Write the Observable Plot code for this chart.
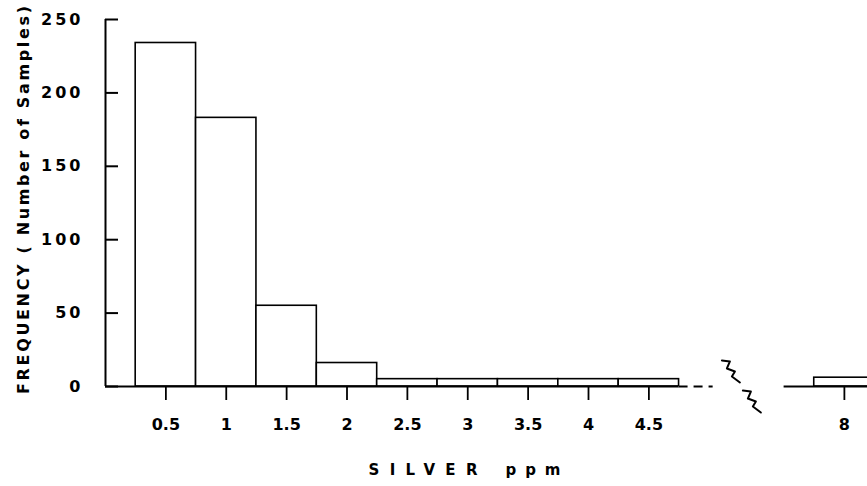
<!DOCTYPE html>
<html>
<head>
<meta charset="utf-8">
<script src="https://cdn.jsdelivr.net/npm/d3@7"></script>
<script src="https://cdn.jsdelivr.net/npm/@observablehq/plot@0.6"></script>
<style>
  html, body { margin: 0; padding: 0; background: #fff; overflow: hidden; }
  svg { font-family: "DejaVu Sans", sans-serif; }
  svg text { font-weight: bold; }
  g[aria-label="x-axis tick label"] text { font-size: 16px; }
  g[aria-label="y-axis tick label"] text { font-size: 16px; letter-spacing: 3px; }
</style>
</head>
<body>
<div id="chart"></div>
<script>
// Bins (SILVER ppm) and counts
const binLow  = [0.25, 0.75, 1.25, 1.75, 2.25, 2.75, 3.25, 3.75, 4.25, 7.75];
const binHigh = [0.75, 1.25, 1.75, 2.25, 2.75, 3.25, 3.75, 4.25, 4.75, 8.25];
const counts  = [234, 183, 55, 16, 5, 5, 5, 5, 5, 6];

const xTicks = [0.5, 1, 1.5, 2, 2.5, 3, 3.5, 4, 4.5, 8];
const yTicks = [0, 50, 100, 150, 200, 250];

const yTitle = "FREQUENCY ( Number of Samples)";
const xTitleA = "SILVER";
const xTitleB = "ppm";

// Broken x axis: left segment 0–5, compressed gap, right segment around 8
const xBreakDomain = [0, 5, 7.5, 8.2];
const leftAxisEnd = 4.75;   // end of solid axis line (last bin edge)
const dashEnd = 5.13;       // end of dashed continuation
const rightAxisStart = 7.5; // start of right axis segment
const breakMarks = [{x: 5.74, y: 9.9}, {x: 6.44, y: -10.6}];
// zigzag glyph shape (pixel offsets from its center)
const zigzag = [[-9,-11],[-1,-10],[-4,-3],[4,0],[1,5],[9,11]];

const bars = binLow.map((lo, i) => ({lo, hi: binHigh[i], n: counts[i]}));

function breakZigzags(index, scales) {
  const g = d3.create("svg:g").attr("aria-label", "axis-break");
  for (const b of breakMarks) {
    const cx = scales.x(b.x), cy = scales.y(b.y);
    g.append("path")
      .attr("d", d3.line()(zigzag.map(([dx, dy]) => [cx + dx, cy + dy])))
      .attr("fill", "none").attr("stroke", "black")
      .attr("stroke-width", 2).attr("stroke-linejoin", "round").attr("stroke-linecap", "round");
  }
  return g.node();
}

const chart = Plot.plot({
  width: 867,
  height: 486,
  marginLeft: 105,
  marginRight: 0,
  marginTop: 19,
  marginBottom: 100,
  style: {background: "#fff", color: "#000", fontSize: "16px", fontFamily: "DejaVu Sans, sans-serif"},
  x: {type: "linear", domain: xBreakDomain, range: [105, 708.75, 783.6, 868]},
  y: {domain: [0, 250]},
  marks: [
    Plot.rectY(bars, {x1: "lo", x2: "hi", y: "n", fill: "white", stroke: "black", strokeWidth: 1.6, clip: true}),
    // axis lines
    Plot.ruleX([0], {y1: 0, y2: 250, stroke: "black", strokeWidth: 2}),
    Plot.ruleY([0], {x1: 0, x2: leftAxisEnd, stroke: "black", strokeWidth: 2}),
    Plot.ruleY([0], {x1: leftAxisEnd, x2: dashEnd, stroke: "black", strokeWidth: 2, strokeDasharray: "9,6"}),
    Plot.ruleY([0], {x1: rightAxisStart, x2: 8.2, stroke: "black", strokeWidth: 2}),
    breakZigzags,
    // axes
    Plot.axisY({ticks: yTicks, tickSize: -13, tickPadding: 35, strokeWidth: 2, label: null}),
    Plot.axisX({ticks: xTicks, tickSize: 14, tickPadding: 18, strokeWidth: 1.8, label: null, tickFormat: d => String(d)}),
    // titles
    Plot.text([yTitle], {frameAnchor: "left", textAnchor: "middle", dx: -82, dy: -3, rotate: -90, fontSize: 16, fill: "black"}),
    Plot.text([xTitleA], {frameAnchor: "bottom", textAnchor: "start", dx: -118, dy: 88, fontSize: 15, fill: "black"}),
    Plot.text([xTitleB], {frameAnchor: "bottom", textAnchor: "start", dx: 19, dy: 88, fontSize: 15, fill: "black"})
  ]
});
document.getElementById("chart").appendChild(chart);

// stretch the hand-lettered titles to the reference spacing
const fit = {[yTitle]: 388, [xTitleA]: 109, [xTitleB]: 55};
d3.select(chart).selectAll("text").each(function() {
  const t = this.textContent;
  if (fit[t]) d3.select(this).attr("textLength", fit[t]).attr("lengthAdjust", "spacing");
});
</script>
</body>
</html>
